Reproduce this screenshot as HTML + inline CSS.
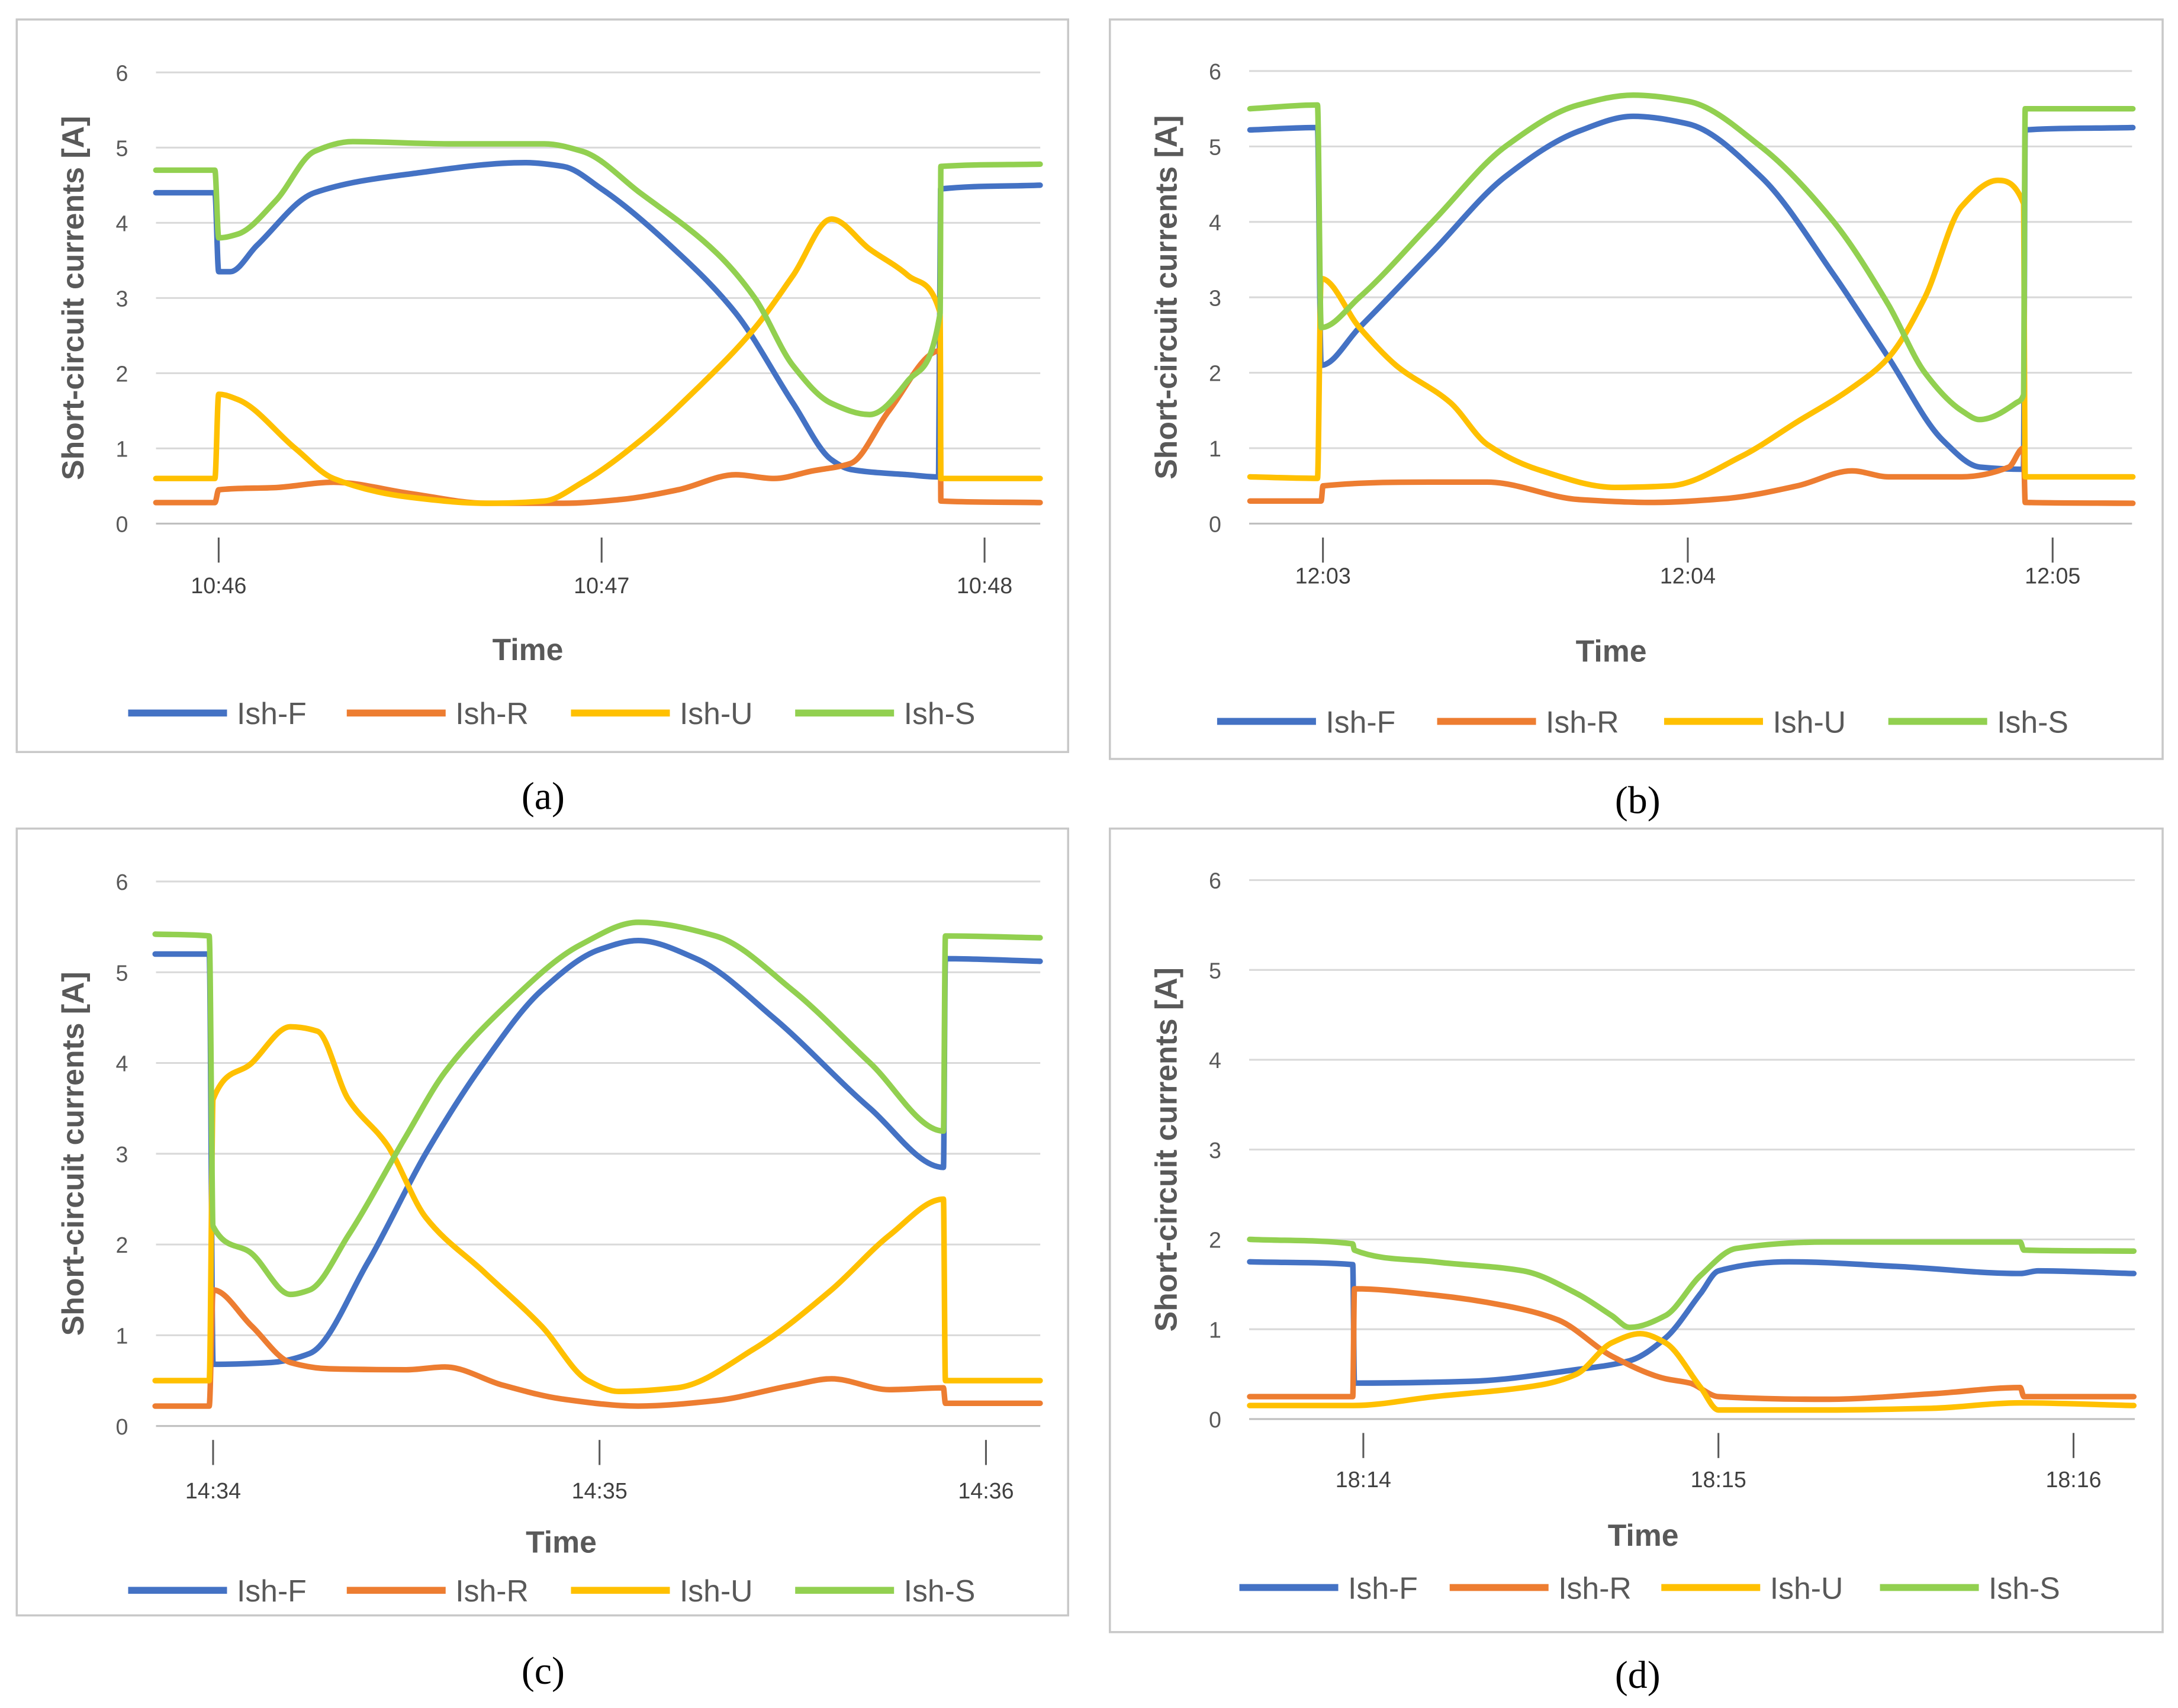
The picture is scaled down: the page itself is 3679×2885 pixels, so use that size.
<!DOCTYPE html>
<html><head><meta charset="utf-8"><style>
html,body{margin:0;padding:0;background:#fff}
svg{display:block}
text{font-family:"Liberation Sans",sans-serif}
</style></head><body>
<svg id="fig" xmlns="http://www.w3.org/2000/svg" width="3679" height="2885" viewBox="0 0 1564 1226.5"></svg>
<script>
// ---- data (time in minutes after first labelled tick, values in A) ----
const tickLabelsA=["10:46","10:47","10:48"];
const tickLabelsB=["12:03","12:04","12:05"];
const tickLabelsC=["14:34","14:35","14:36"];
const tickLabelsD=["18:14","18:15","18:16"];
const yTicks=[0,1,2,3,4,5,6];
const seriesNames=["Ish-F","Ish-R","Ish-U","Ish-S"];

const aF_t=[-0.164,-0.01,0.0,0.03,0.1,0.25,0.5,0.8,0.9,1.0,1.2,1.35,1.5,1.6,1.65,1.8,1.88,1.885,2.145];
const aF_v=[4.4,4.4,3.35,3.35,3.7,4.4,4.65,4.8,4.75,4.45,3.6,2.8,1.6,0.85,0.72,0.65,0.62,4.45,4.5];
const aR_t=[-0.164,-0.01,0.0,0.15,0.3,0.5,0.7,0.9,1.05,1.2,1.35,1.45,1.55,1.65,1.75,1.884,1.886,2.145];
const aR_v=[0.28,0.28,0.45,0.48,0.55,0.4,0.27,0.27,0.32,0.45,0.65,0.6,0.7,0.8,1.5,2.3,0.3,0.28];
const aU_t=[-0.164,-0.01,0.0,0.05,0.2,0.3,0.5,0.7,0.85,0.95,1.1,1.25,1.4,1.5,1.6,1.7,1.8,1.884,1.886,2.145];
const aU_v=[0.6,0.6,1.72,1.65,1.0,0.6,0.35,0.27,0.3,0.55,1.1,1.8,2.6,3.3,4.05,3.65,3.3,2.8,0.6,0.6];
const aS_t=[-0.164,-0.01,0.0,0.05,0.15,0.25,0.35,0.6,0.85,0.95,1.1,1.3,1.4,1.5,1.6,1.7,1.8,1.884,1.886,2.145];
const aS_v=[4.7,4.7,3.8,3.85,4.3,4.95,5.08,5.05,5.05,4.95,4.4,3.6,3.0,2.1,1.6,1.45,1.9,2.8,4.75,4.78];

const bF_t=[-0.2,-0.015,-0.005,0.1,0.3,0.5,0.7,0.85,1.0,1.2,1.4,1.55,1.7,1.8,1.92,1.925,2.22];
const bF_v=[5.22,5.25,2.1,2.6,3.6,4.6,5.2,5.4,5.3,4.6,3.3,2.2,1.1,0.75,0.72,5.22,5.25];
const bR_t=[-0.2,-0.005,0.0,0.3,0.45,0.7,0.9,1.1,1.3,1.45,1.55,1.75,1.88,1.92,1.925,2.22];
const bR_v=[0.3,0.3,0.5,0.55,0.55,0.32,0.28,0.33,0.5,0.7,0.62,0.62,0.75,1.0,0.28,0.27];
const bU_t=[-0.2,-0.015,-0.005,0.1,0.2,0.35,0.45,0.6,0.8,0.95,1.15,1.3,1.45,1.55,1.65,1.75,1.85,1.92,1.925,2.22];
const bU_v=[0.62,0.6,3.25,2.6,2.1,1.6,1.05,0.7,0.48,0.5,0.9,1.35,1.8,2.2,3.0,4.2,4.55,4.25,0.62,0.62];
const bS_t=[-0.2,-0.015,-0.005,0.1,0.3,0.5,0.7,0.85,1.0,1.2,1.4,1.55,1.65,1.75,1.8,1.9,1.92,1.925,2.22];
const bS_v=[5.5,5.55,2.6,3.0,4.0,5.0,5.55,5.68,5.6,5.0,4.0,2.9,2.0,1.5,1.38,1.6,1.7,5.5,5.5];

const cF_t=[-0.15,-0.01,0.0,0.15,0.25,0.4,0.55,0.7,0.85,1.0,1.1,1.25,1.45,1.7,1.89,1.895,2.14];
const cF_v=[5.2,5.2,0.68,0.7,0.8,1.8,3.0,4.0,4.8,5.25,5.35,5.15,4.5,3.5,2.85,5.15,5.12];
const cR_t=[-0.15,-0.01,0.0,0.1,0.2,0.3,0.5,0.6,0.75,0.9,1.1,1.3,1.5,1.6,1.75,1.89,1.895,2.14];
const cR_v=[0.22,0.22,1.5,1.1,0.7,0.63,0.62,0.65,0.45,0.3,0.22,0.28,0.45,0.52,0.4,0.42,0.25,0.25];
const cU_t=[-0.15,-0.01,0.0,0.1,0.2,0.27,0.35,0.45,0.55,0.7,0.85,0.97,1.05,1.2,1.4,1.6,1.75,1.89,1.895,2.14];
const cU_v=[0.5,0.5,3.6,4.0,4.4,4.35,3.6,3.1,2.3,1.7,1.1,0.5,0.38,0.42,0.85,1.5,2.1,2.5,0.5,0.5];
const cS_t=[-0.15,-0.01,0.0,0.1,0.2,0.25,0.35,0.5,0.6,0.75,0.95,1.1,1.3,1.5,1.7,1.89,1.895,2.14];
const cS_v=[5.42,5.4,2.2,1.9,1.45,1.5,2.1,3.2,3.9,4.6,5.3,5.55,5.4,4.8,4.0,3.25,5.4,5.38];

const dF_t=[-0.32,-0.03,-0.025,0.3,0.6,0.75,0.85,0.95,1.0,1.2,1.5,1.85,1.9,2.17];
const dF_v=[1.75,1.72,0.4,0.42,0.55,0.65,0.9,1.4,1.65,1.75,1.7,1.62,1.65,1.62];
const dR_t=[-0.32,-0.03,-0.025,0.2,0.45,0.55,0.7,0.85,0.92,1.0,1.3,1.6,1.85,1.86,2.17];
const dR_v=[0.25,0.25,1.45,1.38,1.22,1.1,0.7,0.45,0.4,0.25,0.22,0.28,0.35,0.25,0.25];
const dU_t=[-0.32,-0.03,0.2,0.5,0.6,0.7,0.78,0.85,0.95,1.0,1.3,1.6,1.85,2.17];
const dU_v=[0.15,0.15,0.25,0.38,0.5,0.85,0.95,0.85,0.35,0.1,0.1,0.12,0.18,0.15];
const dS_t=[-0.32,-0.03,-0.025,0.2,0.45,0.6,0.7,0.75,0.85,0.95,1.05,1.3,1.85,1.86,2.17];
const dS_v=[2.0,1.95,1.88,1.75,1.65,1.4,1.15,1.02,1.15,1.6,1.9,1.97,1.97,1.88,1.87];

const COLORS=["#4472C4","#ED7D31","#FFC000","#92D050"];
const NS="http://www.w3.org/2000/svg";
const svg=document.getElementById('fig');
function mk(tag,attrs,parent){const e=document.createElementNS(NS,tag);for(const k in attrs)e.setAttribute(k,attrs[k]);(parent||svg).appendChild(e);return e;}

// monotone cubic path (no overshoot at steps)
function monoPath(X,Y){
  const n=X.length;
  if(n<3)return X.map((x,i)=>(i?'L':'M')+x.toFixed(1)+','+Y[i].toFixed(1)).join(' ');
  const dx=[],s=[];
  for(let i=0;i<n-1;i++){dx.push(X[i+1]-X[i]);s.push((Y[i+1]-Y[i])/(dx[i]||1e-6));}
  const m=[s[0]];
  for(let i=1;i<n-1;i++){m.push(s[i-1]*s[i]<=0?0:(3*(dx[i-1]+dx[i]))/((2*dx[i]+dx[i-1])/s[i-1]+(dx[i]+2*dx[i-1])/s[i]));}
  m.push(s[n-2]);
  let d='M'+X[0].toFixed(1)+','+Y[0].toFixed(1);
  for(let i=0;i<n-1;i++){
    const h=dx[i]/3;
    d+=' C'+(X[i]+h).toFixed(1)+','+(Y[i]+m[i]*h).toFixed(1)+' '+(X[i+1]-h).toFixed(1)+','+(Y[i+1]-m[i+1]*h).toFixed(1)+' '+X[i+1].toFixed(1)+','+Y[i+1].toFixed(1);
  }
  return d;
}

const panels=[
 {id:"a",box:[12,14,755,526],x0:112,x1:747,tx0:157,ppm:275,y0:376,y6:52,ticks:tickLabelsA,tickLabY:420,timeX:379,timeY:466,legY:512,legX:[92,249,410,571],cap:[390,572],
  series:[[aF_t,aF_v],[aR_t,aR_v],[aU_t,aU_v],[aS_t,aS_v]]},
 {id:"b",box:[797,14,756,531],x0:897,x1:1531,tx0:950,ppm:262,y0:376,y6:51,ticks:tickLabelsB,tickLabY:413,timeX:1157,timeY:467,legY:518,legX:[874,1032,1195,1356],cap:[1176,575],
  series:[[bF_t,bF_v],[bR_t,bR_v],[bU_t,bU_v],[bS_t,bS_v]]},
 {id:"c",box:[12,595,755,565],x0:112,x1:747,tx0:153,ppm:277.5,y0:1024,y6:633,ticks:tickLabelsC,tickLabY:1070,timeX:403,timeY:1107,legY:1142,legX:[92,249,410,571],cap:[390,1200],
  series:[[cF_t,cF_v],[cR_t,cR_v],[cU_t,cU_v],[cS_t,cS_v]]},
 {id:"d",box:[797,595,756,577],x0:897,x1:1533,tx0:979,ppm:255,y0:1019,y6:632,ticks:tickLabelsD,tickLabY:1062,timeX:1180,timeY:1102,legY:1140,legX:[890,1041,1193,1350],cap:[1176,1203],
  series:[[dF_t,dF_v],[dR_t,dR_v],[dU_t,dU_v],[dS_t,dS_v]]}
];

panels.forEach(p=>{
  const g=mk('g',{});
  
  
  mk('rect',{x:p.box[0],y:p.box[1],width:p.box[2],height:p.box[3],fill:'#fff',stroke:'#c8c8c8','stroke-width':1.5},g);
  const xs=t=>p.tx0+t*p.ppm;
  const ys=v=>p.y0+(p.y6-p.y0)*v/6;
  yTicks.forEach(v=>{
    const l=mk('line',{x1:p.x0,x2:p.x1,y1:ys(v),y2:ys(v),stroke:v===0?'#bfbfbf':'#d9d9d9','stroke-width':1.3},g);
    
    
    const t=mk('text',{x:p.x0-20,y:ys(v)+6,'text-anchor':'end','font-size':16,fill:'#595959'},g);
    t.textContent=v;
    
    
  });
  p.ticks.forEach((lab,i)=>{
    const x=xs(i);
    mk('line',{x1:x,x2:x,y1:p.y0+10,y2:p.y0+28,stroke:'#595959','stroke-width':1.3},g);
    const t=mk('text',{x:x,y:p.tickLabY+6,'text-anchor':'middle','font-size':16,fill:'#404040'},g);
    t.textContent=lab;
    
    
  });
  const yc=(p.y0+p.y6)/2;
  const yt=mk('text',{x:0,y:0,'text-anchor':'middle','font-size':22,'font-weight':'bold',fill:'#595959',transform:`translate(${p.box[0]+48},${yc}) rotate(-90)`},g);
  yt.textContent='Short-circuit currents [A]';
  
  
  const xt=mk('text',{x:p.timeX,y:p.timeY+8,'text-anchor':'middle','font-size':22,'font-weight':'bold',fill:'#595959'},g);
  xt.textContent='Time';
  
  
  p.series.forEach((s,k)=>{
    const [ts,vs]=s;
    const d=monoPath(ts.map(xs),vs.map(ys));
    const path=mk('path',{d:d,fill:'none',stroke:COLORS[k],'stroke-width':4,'stroke-linejoin':'round','stroke-linecap':'round'},g);
    
    
  });
  seriesNames.forEach((n,k)=>{
    const lx=p.legX[k];
    const le=mk('g',{},g);
    
    
    mk('line',{x1:lx,x2:lx+71,y1:p.legY,y2:p.legY,stroke:COLORS[k],'stroke-width':5},le);
    const t=mk('text',{x:lx+78,y:p.legY+8,'font-size':22,fill:'#595959'},le);
    t.textContent=n;
  });
  const cap=mk('text',{x:p.cap[0],y:p.cap[1]+9,'text-anchor':'middle','font-size':28,fill:'#000'});
  cap.setAttribute('style','font-family:"Liberation Serif",serif');
  cap.textContent='('+p.id+')';
  
  
});
</script>
</body></html>
